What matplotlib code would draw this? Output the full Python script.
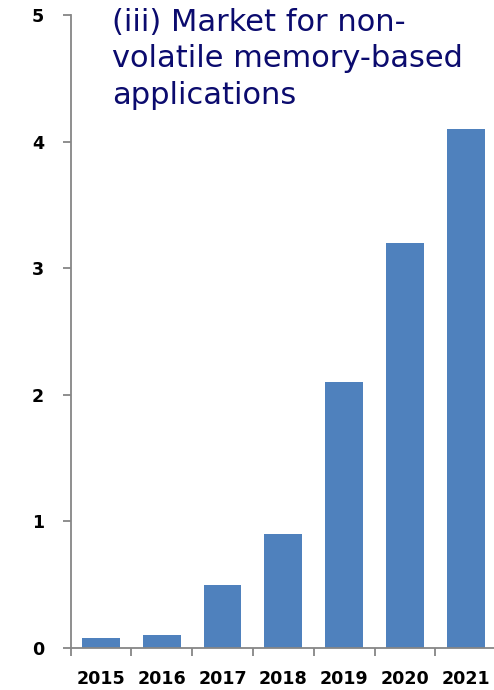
import matplotlib
matplotlib.use("Agg")
import matplotlib.pyplot as plt
import numpy as np

# Market size by year
years = ["2015", "2016", "2017", "2018", "2019", "2020", "2021"]
values = [0.08, 0.10, 0.50, 0.90, 2.10, 3.20, 4.10]
y_ticks = [0, 1, 2, 3, 4, 5]
title = "(iii) Market for non-\nvolatile memory-based\napplications"

bar_color = "#4F81BD"
axis_color = "#868686"
title_color = "#0B0B6E"

W, H = 494, 690
fig = plt.figure(figsize=(W / 100, H / 100), dpi=100)
ax = fig.add_axes([70.5 / W, 42 / H, 425.6 / W, 633 / H])

x = np.arange(len(years))
ax.bar(x, values, width=0.62, color=bar_color, zorder=2)

ax.set_xlim(-0.5, len(years) - 0.5)
ax.set_ylim(0, 5)

# Category labels centred, tick marks between categories
ax.set_xticks(x)
ax.set_xticklabels(years, fontsize=12.6, fontweight="bold", family="DejaVu Sans")
ax.set_xticks(np.arange(-0.5, len(years)), minor=True)
ax.tick_params(axis="x", which="major", length=0, pad=16)
ax.tick_params(axis="x", which="minor", length=5.5, width=1.3,
               color=axis_color, direction="out")

ax.set_yticks(y_ticks)
ax.set_yticklabels([str(v) for v in y_ticks], fontsize=12.6, fontweight="bold",
                   family="DejaVu Sans")
ax.tick_params(axis="y", length=6, width=1.3, color=axis_color,
               direction="out", pad=13)

for side in ("top", "right"):
    ax.spines[side].set_visible(False)
for side in ("left", "bottom"):
    ax.spines[side].set_color(axis_color)
    ax.spines[side].set_linewidth(1.3)

fig.text(112 / W, 1 - 8 / H, title, ha="left", va="top", fontsize=22,
         color=title_color, family="DejaVu Sans", linespacing=1.32)

fig.savefig("out.png", dpi=100)
